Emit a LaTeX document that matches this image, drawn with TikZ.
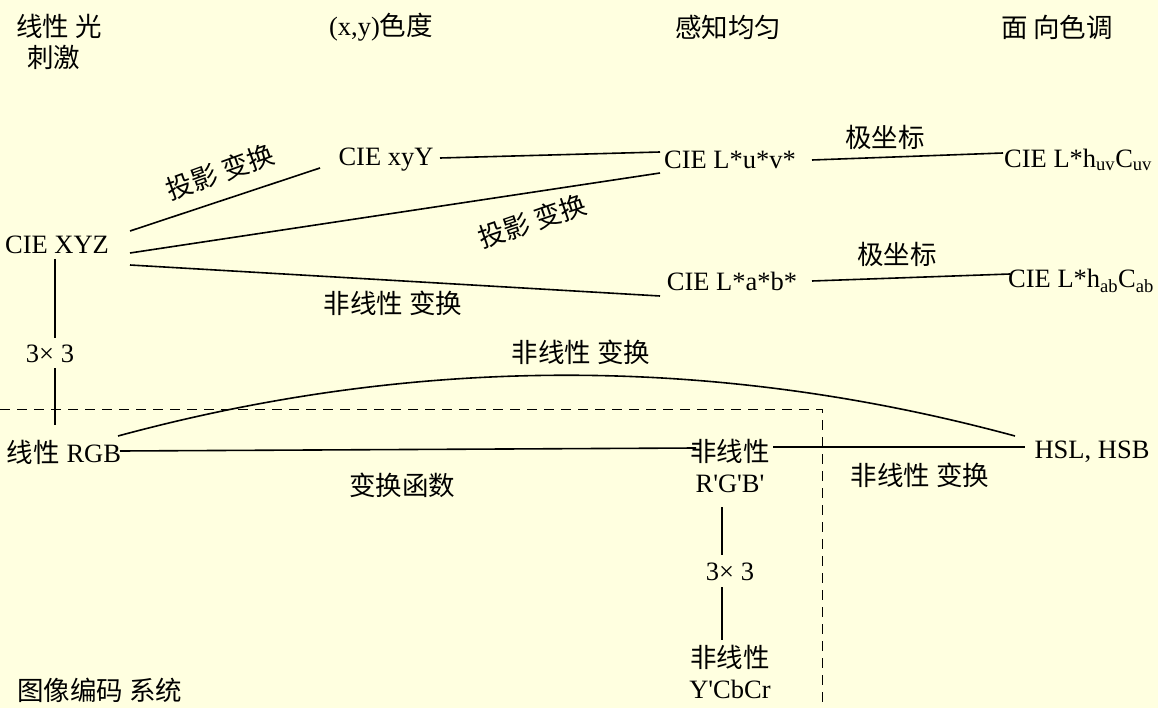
\documentclass[tikz,border=0pt]{standalone}
\usepackage{fontspec}
\setmainfont{Liberation Serif}
\newfontfamily\cjk{Noto Sans CJK SC}
\definecolor{bg}{RGB}{255,255,224}
\newcommand{\ap}{\textquotesingle}
\begin{document}
\begin{tikzpicture}[x=1pt,y=-1pt,
  lbl/.style={inner sep=0pt, font=\fontsize{26.5}{31}\selectfont, align=center},
  conn/.style={line width=1.6pt},
  sep/.style={dash pattern=on 10pt off 7pt, line width=1pt}]
\fill[bg] (0,0) rectangle (1158,708);
\useasboundingbox (0,0) rectangle (1158,708);
% column headers
\node[lbl, align=left] (h1) at (59,42) {{\cjk 线性 光}\\\hspace*{11pt}{\cjk 刺激}};
\node[lbl] (h2) at (381,27) {(x,y){\cjk 色度}};
\node[lbl] (h3) at (728,27) {\cjk 感知均匀};
\node[lbl] (h4) at (1057,27) {\cjk 面 向色调};
% colour spaces
\node[lbl] (xyz) at (57,245) {CIE XYZ};
\node[lbl] (xyy) at (386,160) {CIE xyY};
\node[lbl] (luv) at (730,160) {CIE L*u*v*};
\node[lbl, anchor=west] (lhuv) at (1004,160) {CIE L*h\textsubscript{uv}C\textsubscript{uv}};
\node[lbl] (lab) at (732,281) {CIE L*a*b*};
\node[lbl, anchor=west] (lhab) at (1008,281) {CIE L*h\textsubscript{ab}C\textsubscript{ab}};
\node[lbl] (rgb) at (64,452) {{\cjk 线性} RGB};
\node[lbl] (rgbp) at (730,466) {{\cjk 非线性}\\R\ap G\ap B\ap};
\node[lbl] (hsl) at (1092,452) {HSL, HSB};
\node[lbl] (ycc) at (730,672) {{\cjk 非线性}\\Y\ap CbCr};
\node[lbl, anchor=west] (sys) at (17,690) {\cjk 图像编码 系统};
% edge labels
\node[lbl, rotate=20] (t1) at (220,172) {\cjk 投影 变换};
\node[lbl, rotate=19] (t2) at (532,221) {\cjk 投影 变换};
\node[lbl] (t3) at (393,303) {\cjk 非线性 变换};
\node[lbl] (p1) at (885,137) {\cjk 极坐标};
\node[lbl] (p2) at (897,254) {\cjk 极坐标};
\node[lbl] (m1) at (50,354) {3× 3};
\node[lbl] (m2) at (730,572) {3× 3};
\node[lbl] (t4) at (581,352) {\cjk 非线性 变换};
\node[lbl] (t5) at (402,485) {\cjk 变换函数};
\node[lbl] (t6) at (920,475) {\cjk 非线性 变换};
% connector end points
\coordinate (xyz-a) at (130,231);
\coordinate (xyz-b) at (130,253);
\coordinate (xyz-c) at (130,265);
\coordinate (xyy-w) at (320,168);
\coordinate (xyy-e) at (440,158);
\coordinate (luv-w1) at (660,152);
\coordinate (luv-w2) at (660,173);
\coordinate (luv-e) at (812,160);
\coordinate (lhuv-w) at (1003,153);
\coordinate (lab-w) at (660,296);
\coordinate (lab-e) at (812,281);
\coordinate (lhab-w) at (1010,274);
\coordinate (xyz-s) at (55,259);
\coordinate (m1-n) at (55,338);
\coordinate (m1-s) at (55,368);
\coordinate (rgb-n) at (55,425);
\coordinate (rgb-e) at (120,451);
\coordinate (rgb-ne) at (118,436);
\coordinate (rgbp-w) at (696,448);
\coordinate (rgbp-e) at (773,447);
\coordinate (hsl-w) at (1025,447);
\coordinate (hsl-nw) at (1015,436);
\coordinate (rgbp-s) at (722,507);
\coordinate (m2-n) at (722,555);
\coordinate (m2-s) at (722,587);
\coordinate (ycc-n) at (722,640);
\coordinate (d0) at (0,409);
\coordinate (d1) at (822,409);
\coordinate (d2) at (822,708);
% connectors
\draw[conn] (xyz-a) -- (xyy-w);
\draw[conn] (xyz-b) -- (luv-w2);
\draw[conn] (xyz-c) -- (lab-w);
\draw[conn] (xyy-e) -- (luv-w1);
\draw[conn] (luv-e) -- (lhuv-w);
\draw[conn] (lab-e) -- (lhab-w);
\draw[conn] (xyz-s) -- (m1-n);
\draw[conn] (m1-s) -- (rgb-n);
\draw[conn] (rgb-e) -- (rgbp-w);
\draw[conn] (rgbp-e) -- (hsl-w);
\draw[conn] (rgb-ne) .. controls (417,355) and (716,355) .. (hsl-nw);
\draw[conn] (rgbp-s) -- (m2-n);
\draw[conn] (m2-s) -- (ycc-n);
\draw[sep] (d0) -- (d1) -- (d2);
\end{tikzpicture}
\end{document}
